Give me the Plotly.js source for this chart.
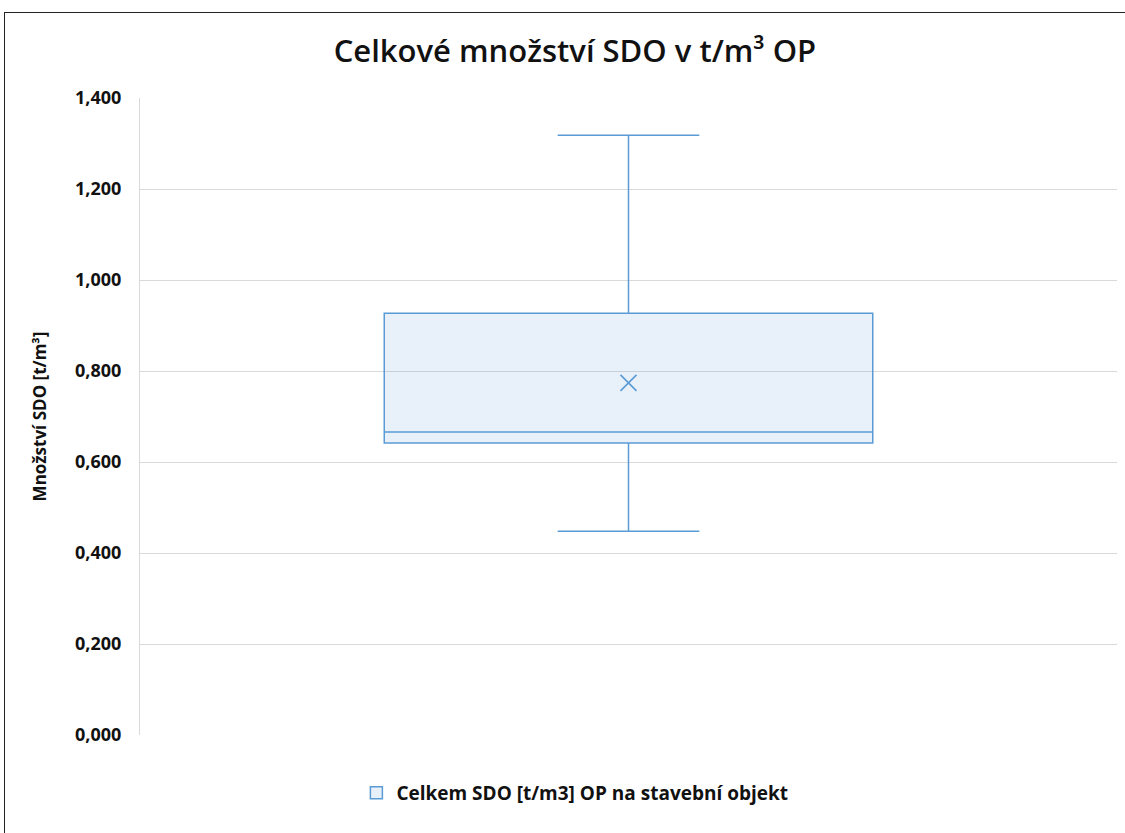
<!DOCTYPE html>
<html>
<head>
<meta charset="utf-8">
<script src="https://cdn.plot.ly/plotly-3.0.1.min.js"></script>
<style>
  html, body { margin: 0; padding: 0; background: #fff; overflow: hidden; }
  #chart { position: absolute; left: 0; top: 0; width: 1125px; height: 833px; }
  #frame { position: absolute; left: 4px; top: 12px; width: 1140px; height: 840px;
           border-left: 1.5px solid #222; border-top: 1.5px solid #222; pointer-events: none; }
</style>
</head>
<body>
<div id="chart"></div>
<div id="frame"></div>
<script>
// Data (values in t/m3)
const seriesName = "Celkem SDO [t/m3] OP na stavební objekt";
const categories = [0];
const lowerWhisker = [0.448];
const q1Values = [0.642];
const medianValues = [0.666];
const q3Values = [0.927];
const upperWhisker = [1.318];
const meanValues = [0.774];
const tickValues = [0, 0.2, 0.4, 0.6, 0.8, 1.0, 1.2, 1.4];
const tickLabels = ["0,000", "0,200", "0,400", "0,600", "0,800", "1,000", "1,200", "1,400"];

const blue = "#5B9BD5";
const fontFam = "'Open Sans', 'Noto Sans', sans-serif";

const traces = [
  {
    type: "box",
    name: seriesName,
    x: categories,
    q1: q1Values,
    median: medianValues,
    q3: q3Values,
    lowerfence: lowerWhisker,
    upperfence: upperWhisker,
    boxpoints: false,
    width: 0.5,
    whiskerwidth: 0.29,
    line: { color: blue, width: 1.5 },
    fillcolor: "rgba(91,155,213,0.14)",
    hoverinfo: "y",
    showlegend: true
  },
  {
    type: "scatter",
    mode: "markers",
    x: categories,
    y: meanValues,
    marker: { symbol: "x-thin-open", size: 16, color: blue, line: { color: blue, width: 1.6 } },
    showlegend: false,
    hoverinfo: "y"
  }
];

const layout = {
  width: 1125,
  height: 833,
  paper_bgcolor: "#ffffff",
  plot_bgcolor: "#ffffff",
  margin: { l: 140, r: 8, t: 98, b: 98 },
  font: { family: fontFam, color: "#111" },
  title: {
    text: "Celkové množství SDO v t/m³ OP",
    font: { family: fontFam, size: 31, color: "#111", weight: 600 },
    x: 0.511, xref: "container", xanchor: "center",
    y: 0.938, yref: "container", yanchor: "middle"
  },
  xaxis: {
    range: [-0.5, 0.5],
    showticklabels: false,
    showgrid: false,
    zeroline: false,
    showline: false,
    ticks: "",
    fixedrange: true
  },
  yaxis: {
    range: [0, 1.4],
    tickvals: tickValues,
    ticktext: tickLabels,
    tickfont: { family: fontFam, size: 18, color: "#111", weight: "bold" },
    showgrid: true,
    gridcolor: "#D9D9D9",
    gridwidth: 1,
    zeroline: false,
    showline: true,
    linecolor: "#D9D9D9",
    linewidth: 1,
    ticks: "",
    ticklabelstandoff: 14,
    title: {
      text: "Množství SDO [t/m³]",
      font: { family: fontFam, size: 17, color: "#111", weight: "bold" },
      standoff: 24
    }
  },
  showlegend: true,
  legend: {
    orientation: "h",
    xref: "container", yref: "container",
    x: 0.511, xanchor: "center",
    y: 0.048, yanchor: "middle",
    font: { family: fontFam, size: 19, color: "#111", weight: "bold" }
  }
};

Plotly.newPlot("chart", traces, layout, { displayModeBar: false, staticPlot: true });
</script>
</body>
</html>
